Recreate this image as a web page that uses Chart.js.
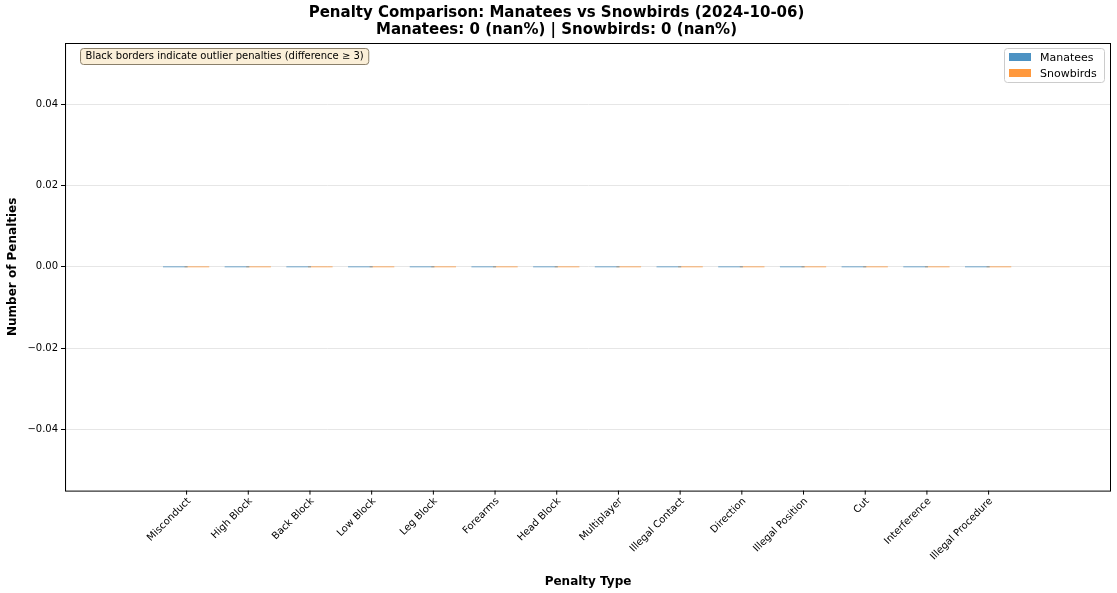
<!DOCTYPE html>
<html>
<head>
<meta charset="utf-8">
<script src="https://cdn.jsdelivr.net/npm/chart.js@4/dist/chart.umd.min.js"></script>
<style>
  body { margin: 0; background: #fff; }
  #wrap { width: 1117px; height: 593px; }
</style>
</head>
<body>
<div id="wrap"><canvas id="chart"></canvas></div>
<script>
const categories = ['Misconduct', 'High Block', 'Back Block', 'Low Block', 'Leg Block', 'Forearms',
    'Head Block', 'Multiplayer', 'Illegal Contact', 'Direction', 'Illegal Position', 'Cut',
    'Interference', 'Illegal Procedure'];
const manatees = [0, 0, 0, 0, 0, 0, 0, 0, 0, 0, 0, 0, 0, 0];
const snowbirds = [0, 0, 0, 0, 0, 0, 0, 0, 0, 0, 0, 0, 0, 0];
const yTicks = [-0.04, -0.02, 0.00, 0.02, 0.04];

const FONT = 'DejaVu Sans';

// frame, rotated category labels, legend + note box
const boxesPlugin = {
    id: 'boxes',
    afterDraw(chart) {
        const ctx = chart.ctx;
        const a = chart.chartArea;
        const xs = chart.scales.x;
        ctx.save();
        ctx.strokeStyle = '#000';
        ctx.lineWidth = 1;
        ctx.strokeRect(a.left + 0.5, a.top + 0.5, a.right - a.left - 1, a.bottom - a.top);

        // category labels, rotated 45°, right end at tick
        ctx.font = '10px ' + FONT;
        ctx.fillStyle = '#000';
        categories.forEach((c, i) => {
            const x = xs.getPixelForValue(i);
            ctx.beginPath();
            ctx.moveTo(x + 0.5, a.bottom); ctx.lineTo(x + 0.5, a.bottom + 4); ctx.stroke();
            ctx.save();
            ctx.translate(x + 3, a.bottom + 9);
            ctx.rotate(-Math.PI / 4);
            ctx.textAlign = 'right';
            ctx.textBaseline = 'middle';
            ctx.fillText(c, 0, 0);
            ctx.restore();
        });

        // note box
        ctx.font = '10px ' + FONT;
        const note = 'Black borders indicate outlier penalties (difference \u2265 3)';
        const w = ctx.measureText(note).width + 10;
        ctx.fillStyle = '#fbefd8';
        ctx.strokeStyle = '#8a7f6a';
        ctx.beginPath();
        ctx.roundRect(a.left + 15.5, a.top + 5.5, w, 16, 3);
        ctx.fill(); ctx.stroke();
        ctx.fillStyle = '#000';
        ctx.textBaseline = 'middle';
        ctx.fillText(note, a.left + 20.5, a.top + 13.5);

        // legend
        const lx = a.right - 107, ly = a.top + 5;
        ctx.fillStyle = 'rgba(255,255,255,0.9)';
        ctx.strokeStyle = '#ccc';
        ctx.beginPath();
        ctx.roundRect(lx + 0.5, ly + 0.5, 100, 34, 3);
        ctx.fill(); ctx.stroke();
        ctx.font = '11px ' + FONT;
        chart.data.datasets.forEach((ds, i) => {
            const y = ly + 9 + i * 16;
            ctx.fillStyle = ds.backgroundColor;
            ctx.fillRect(lx + 5, y - 4, 22, 8);
            ctx.fillStyle = '#000';
            ctx.fillText(ds.label, lx + 36, y + 1);
        });
        ctx.restore();
    }
};

new Chart(document.getElementById('chart').getContext('2d'), {
    type: 'bar',
    data: {
        datasets: [
            { label: 'Manatees', data: manatees.map((v, i) => ({ x: i - 0.175, y: v })), backgroundColor: 'rgba(31,119,180,0.8)', borderWidth: 0 },
            { label: 'Snowbirds', data: snowbirds.map((v, i) => ({ x: i + 0.175, y: v })), backgroundColor: 'rgba(255,127,14,0.8)', borderWidth: 0 }
        ]
    },
    options: {
        responsive: true,
        maintainAspectRatio: false,
        animation: false,
        layout: { padding: { left: 2, right: 6, top: 0, bottom: 4 } },
        datasets: { bar: { barThickness: 24, grouped: false } },
        plugins: {
            legend: { display: false },
            tooltip: { enabled: false },
            title: {
                display: true,
                text: ['Penalty Comparison: Manatees vs Snowbirds (2024-10-06)', 'Manatees: 0 (nan%) | Snowbirds: 0 (nan%)'],
                color: '#000',
                font: { family: FONT, size: 15, weight: 'bold', lineHeight: 1.1 },
                padding: { top: 5, bottom: 5 }
            }
        },
        scales: {
            x: {
                type: 'linear',
                min: -1.02,
                max: 14.05,
                ticks: { display: false },
                grid: { display: false },
                border: { display: false },
                title: { display: true, text: 'Penalty Type', color: '#000', font: { family: FONT, size: 12, weight: 'bold' }, padding: { top: 76, bottom: 0 } }
            },
            y: {
                min: -0.055,
                max: 0.055,
                afterBuildTicks(axis) { axis.ticks = yTicks.map(v => ({ value: v })); },
                ticks: {
                    color: '#000',
                    font: { family: FONT, size: 10 },
                    callback: (v) => (v < 0 ? '\u2212' : '') + Math.abs(v).toFixed(2)
                },
                grid: { color: '#e6e6e6', tickColor: '#000', tickLength: 4 },
                border: { color: '#000' },
                title: { display: true, text: 'Number of Penalties', color: '#000', font: { family: FONT, size: 12, weight: 'bold' } }
            }
        }
    },
    plugins: [boxesPlugin]
});
</script>
</body>
</html>
